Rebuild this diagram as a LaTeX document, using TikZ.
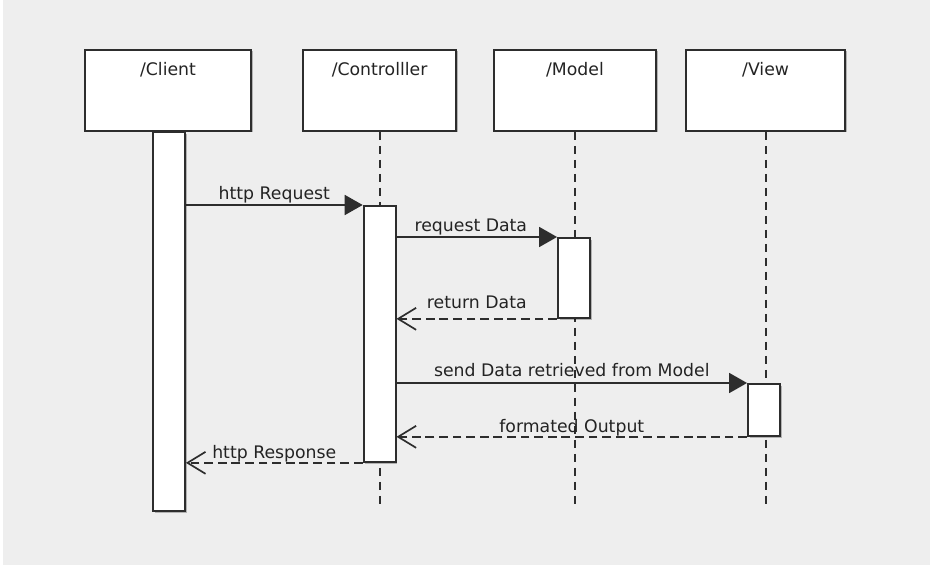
\documentclass[tikz,border=0pt]{standalone}
\usepackage{fontspec}
\setmainfont{DejaVu Sans}
\usepackage{tikz}
\usetikzlibrary{arrows.meta, positioning, shadows}
\definecolor{bggray}{RGB}{238,238,238}
\definecolor{linegray}{RGB}{45,45,45}
\definecolor{textgray}{RGB}{35,35,35}
\tikzset{
  obj/.style={rectangle, draw=linegray, fill=white, line width=1.3pt,
    minimum height=2.025cm, inner ysep=0.25cm, text height=0.4cm,
    text depth=1.125cm, font=\fontsize{12.3}{14}\selectfont, text=textgray,
    drop shadow={shadow xshift=0.04cm, shadow yshift=-0.04cm,
      opacity=0.25, fill=black}},
  act/.style={rectangle, draw=linegray, fill=white, line width=1.3pt,
    minimum width=0.8cm, anchor=north, inner sep=0pt,
    drop shadow={shadow xshift=0.04cm, shadow yshift=-0.04cm,
      opacity=0.25, fill=black}},
  life/.style={draw=linegray, line width=1.3pt,
    dash pattern=on 0.2cm off 0.15cm},
  call/.style={-{Triangle[length=0.45cm, width=0.5cm]},
    draw=linegray, fill=black, line width=1.2pt},
  reply/.style={-{Straight Barb[length=0.45cm, width=0.55cm]},
    draw=linegray, line width=1.2pt, dash pattern=on 0.22cm off 0.12cm},
  msg/.style={anchor=base, yshift=#1, inner sep=0pt,
    font=\fontsize{12.3}{14}\selectfont, text=textgray},
  msg/.default=0.15cm,
}

\begin{document}
\begin{tikzpicture}

  % ---- canvas ----
  \useasboundingbox (0,0) rectangle (23.35,14.25);
  \fill[bggray] (0.075,0.125) rectangle (23.25,14.25);

  % ---- objects ----
  \node[obj, minimum width=4.15cm]  (client) at (4.2,11.99)    {/Client};
  \node[obj, minimum width=3.825cm] (ctrl)   at (9.49,11.99)   {/Controlller};
  \node[obj, minimum width=4.05cm]  (model)  at (14.375,11.99) {/Model};
  \node[obj, minimum width=3.975cm] (view)   at (19.14,11.99)  {/View};

  % ---- lifelines ----
  \coordinate (ctrlEnd)  at (9.49,1.625);
  \coordinate (modelEnd) at (14.375,1.625);
  \coordinate (viewEnd)  at (19.14,1.625);
  \draw[life] (ctrl.south)  -- (ctrlEnd);
  \draw[life] (model.south) -- (modelEnd);
  \draw[life] (view.south)  -- (viewEnd);

  % ---- activations ----
  \node[act, minimum height=9.475cm] (clientAct) at (4.225,10.975) {};
  \node[act, minimum height=6.4cm]   (ctrlAct)   at (9.49,9.125)   {};
  \node[act, minimum height=2.0cm]   (modelAct)  at (14.35,8.325)  {};
  \node[act, minimum height=1.3cm]   (viewAct)   at (19.1,4.675)   {};

  % ---- messages ----
  \draw[call] (ctrlAct.north west -| clientAct.east) -- (ctrlAct.north west)
        node[msg, midway] (reqLbl) {http Request};
  \draw[call] (modelAct.north west -| ctrlAct.east) -- (modelAct.north west)
        node[msg, midway, xshift=-0.15cm] (dataLbl) {request Data};
  \draw[reply] (modelAct.south west) -- (modelAct.south west -| ctrlAct.east)
        node[msg=0.27cm, midway] (retLbl) {return Data};
  \draw[call] (viewAct.north west -| ctrlAct.east) -- (viewAct.north west)
        node[msg=0.17cm, midway] (sendLbl) {send Data retrieved from Model};
  \draw[reply] (viewAct.south west) -- (viewAct.south west -| ctrlAct.east)
        node[msg=0.1cm, midway] (outLbl) {formated Output};
  \draw[reply] (ctrlAct.south west) -- (ctrlAct.south west -| clientAct.east)
        node[msg=0.1cm, midway] (respLbl) {http Response};
\end{tikzpicture}
\end{document}
